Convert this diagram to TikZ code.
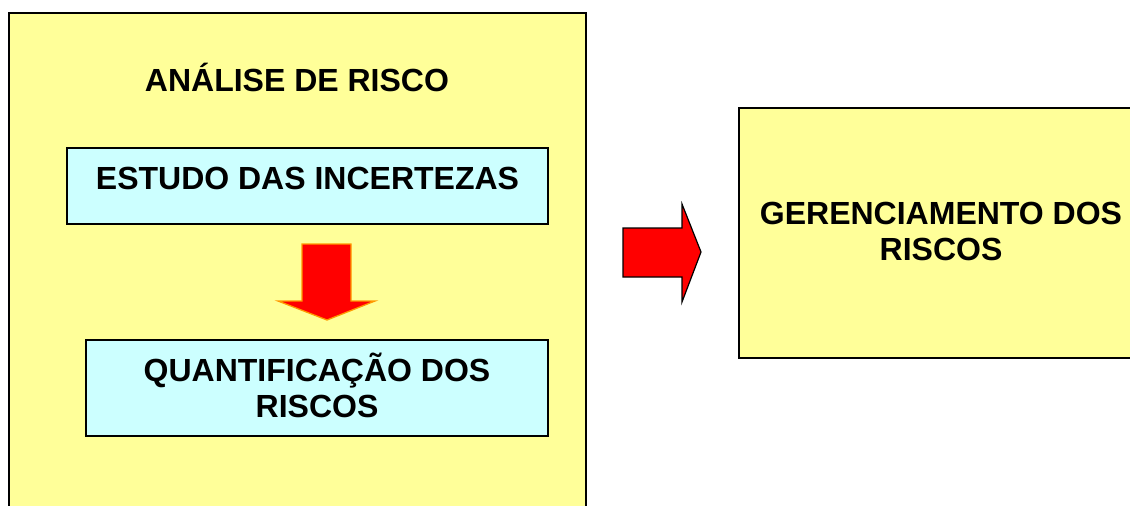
\documentclass[tikz,border=0pt]{standalone}
\usepackage{fontspec}
\setmainfont{Liberation Sans}
\definecolor{boxyellow}{HTML}{FFFF99}
\definecolor{boxblue}{HTML}{CCFFFF}
\definecolor{arrowred}{HTML}{FF0000}
\definecolor{arroworange}{HTML}{FF9900}
\begin{document}
\begin{tikzpicture}[x=1pt,y=-1pt,
  frame/.style={draw=black,line width=1.4pt},
  label/.style={font=\bfseries\fontsize{32}{36}\selectfont,align=center,inner sep=0pt,text=black}]
\useasboundingbox (0,0) rectangle (1130,506);
\clip (0,0) rectangle (1130,506);
\fill[white] (0,0) rectangle (1130,506);
% outer analysis box
\draw[frame,fill=boxyellow] (9,13) rectangle (586,530);
% management box
\draw[frame,fill=boxyellow] (739,108) rectangle (1150,358);
% inner boxes
\draw[frame,line width=1.2pt,fill=boxblue] (67,148) rectangle (548,224);
\draw[frame,line width=1.2pt,fill=boxblue] (86,340) rectangle (548,436);
% texts
\node[label] (t1) at (297,77) {ANÁLISE DE RISCO};
\node[label] (t2) at (307.5,178) {ESTUDO DAS INCERTEZAS};
\node[label] (t3) at (317,385) {QUANTIFICAÇÃO DOS\\RISCOS};
\node[label] (t4) at (941,231) {GERENCIAMENTO DOS\\RISCOS};
% down block arrow
\draw[draw=arroworange,line width=1.3pt,fill=arrowred,line join=miter]
  (302,244) -- (351,244) -- (351,301) -- (375,301) -- (327,320) -- (278,301) -- (302,301) -- cycle;
% right block arrow
\draw[draw=black,line width=1.2pt,fill=arrowred,line join=miter]
  (623,228) -- (682,228) -- (682,204) -- (701,252) -- (682,302) -- (682,277) -- (623,277) -- cycle;
\end{tikzpicture}
\end{document}
